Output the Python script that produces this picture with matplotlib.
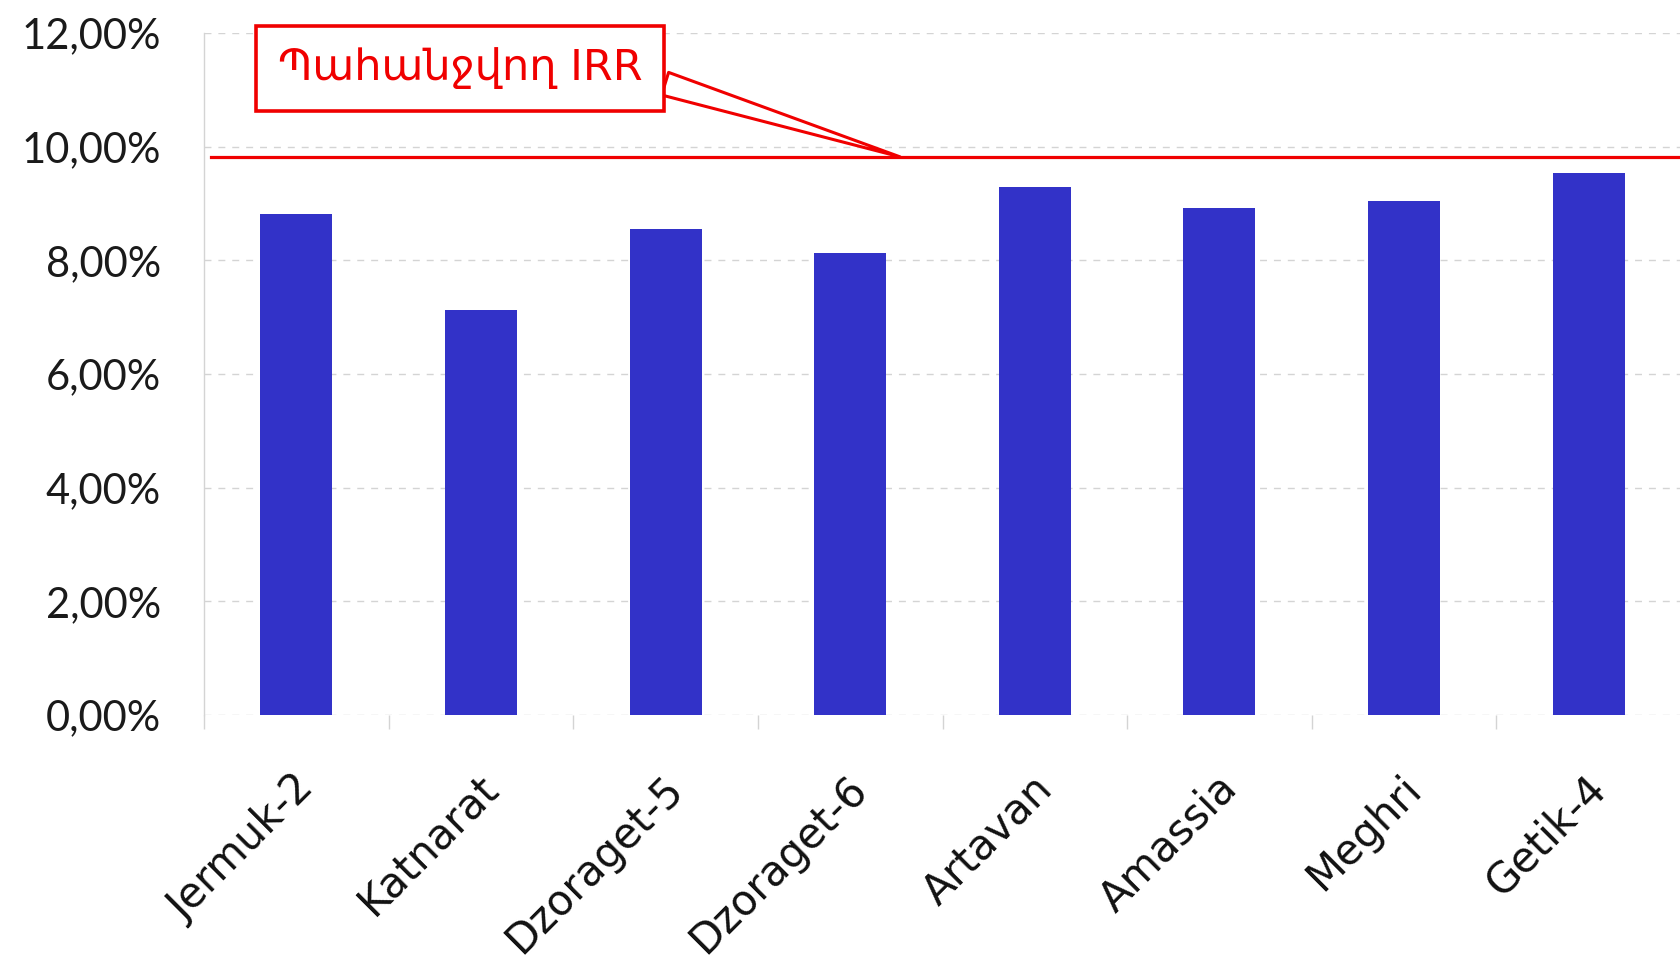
import matplotlib
matplotlib.use("Agg")
import matplotlib.pyplot as plt
import matplotlib.transforms as mtransforms
import numpy as np

# data
projects = ["Jermuk-2", "Katnarat", "Dzoraget-5", "Dzoraget-6",
            "Artavan", "Amassia", "Meghri", "Getik-4"]
irr_values = [8.82, 7.13, 8.55, 8.12, 9.29, 8.92, 9.05, 9.54]
required_irr = 9.82
callout_label = "Պահանջվող IRR"
y_ticks = [0, 2, 4, 6, 8, 10, 12]

bar_color = "#3232C8"
red = "#F00000"
grid_gray = "#D4D4D4"

plt.rcParams['font.family'] = ['DejaVu Sans']

fig = plt.figure(figsize=(16.81, 9.58), dpi=100)
ax = fig.add_axes([0.1214, 0.2537, 1.0 - 0.1214, 0.9656 - 0.2537])

x = np.arange(len(projects))
ax.bar(x, irr_values, width=0.39, color=bar_color, zorder=3)

ax.set_xlim(-0.5, len(projects) - 0.5)
ax.set_ylim(0, 12)

# y axis: comma decimals like the source
ax.set_yticks(y_ticks)
ax.set_yticklabels([f"{v:.2f}%".replace(".", ",") for v in y_ticks],
                   fontsize=30, color="#1a1a1a",
                   family=["Lato", "DejaVu Sans"], fontweight="normal")
ax.tick_params(axis="y", length=0, pad=31)
ax.yaxis.grid(True, linestyle=(0, (5, 5)), color=grid_gray, linewidth=1, zorder=0)

# x axis: small ticks at category boundaries, labels placed with an offset
ax.set_xticks(x)
ax.set_xticklabels([])
ax.tick_params(axis="x", which="major", length=0)
ax.set_xticks(np.arange(-0.5, len(projects)), minor=True)
ax.tick_params(axis="x", which="minor", length=10, width=1, color=grid_gray)

label_trans = mtransforms.offset_copy(ax.get_xaxis_transform(), fig=fig,
                                      x=-4, y=-52, units="dots")
for xi, name in zip(x, projects):
    ax.text(xi, 0, name, transform=label_trans, rotation=45,
            rotation_mode="anchor", ha="right", va="top",
            fontsize=30, color="#111111")

for side in ["top", "right", "bottom"]:
    ax.spines[side].set_visible(False)
ax.spines["left"].set_color(grid_gray)
ax.spines["left"].set_linewidth(1)

# required IRR line and callout
ax.axhline(required_irr, xmin=0.005, color=red, linewidth=2.3, zorder=4)
ax.annotate(callout_label, xy=(3.27, required_irr), xytext=(0.886, 11.38),
            textcoords="data", ha="center", va="center",
            fontsize=31, color=red, annotation_clip=False, zorder=5,
            bbox=dict(boxstyle="square,pad=0.5", fc="white", ec=red, lw=2.6),
            arrowprops=dict(arrowstyle="wedge,tail_width=0.55,shrink_factor=0.5",
                            fc="white", ec=red, lw=2.2, relpos=(1.0, 0.3),
                            shrinkA=0, shrinkB=0))

fig.savefig("out.png", dpi=100)
